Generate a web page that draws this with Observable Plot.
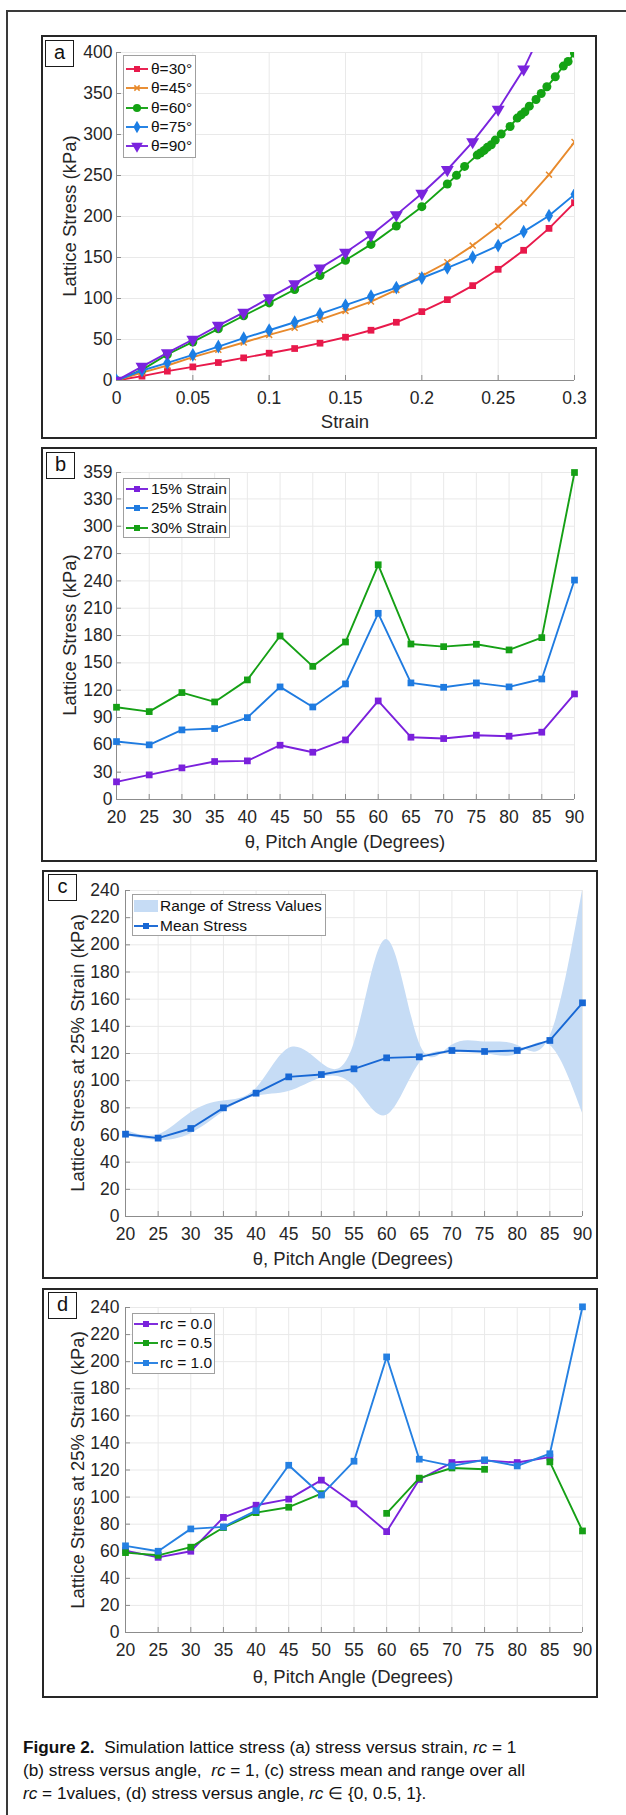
<!DOCTYPE html>
<html><head><meta charset="utf-8">
<script src="https://cdn.jsdelivr.net/npm/d3@7"></script>
<script src="https://cdn.jsdelivr.net/npm/@observablehq/plot@0.6"></script>
<style>
body{margin:0;background:#fff;}
#page{position:relative;width:626px;height:1815px;overflow:hidden;font-family:"Liberation Sans",Arial,Helvetica,sans-serif;color:#111;background:#fff;}
.box{position:absolute;box-sizing:border-box;pointer-events:none;}
.letter{position:absolute;box-sizing:border-box;border:1.5px solid #1a1a1a;background:#fff;font-size:20px;text-align:center;line-height:23px;}
.ylab{position:absolute;white-space:nowrap;font-size:18.5px;color:#262626;transform:translate(-50%,-50%) rotate(-90deg);}
.xlab{position:absolute;white-space:nowrap;font-size:18.5px;color:#262626;transform:translate(-50%,-50%);}
.legend{position:absolute;box-sizing:border-box;border:1px solid #a0a0a0;background:#fff;}
.ltext{position:absolute;white-space:nowrap;font-size:15.5px;color:#111;transform:translateY(-50%);}
.cap{position:absolute;left:23px;white-space:pre;font-size:17.2px;color:#111;transform:translateY(-50%);}
.cap i{font-style:italic;}
svg.plot{position:absolute;}
</style></head>
<body><div id="page"></div>
<script>
// ---------- DATA ----------
// Panel a: stress vs strain
const strainA = [0, 0.0167, 0.0333, 0.05, 0.0667, 0.0833, 0.1, 0.1167, 0.1333, 0.15, 0.1667, 0.1833, 0.2, 0.2167, 0.2333, 0.25, 0.2667, 0.2833, 0.3];
const stress30 = [0, 5.3, 11.4, 16.6, 21.9, 27.6, 33.3, 39, 45.5, 52.8, 61.3, 71, 84, 98.6, 115.7, 135.6, 158.8, 185.5, 216.8];
const stress45 = [0, 9.7, 18.3, 28.4, 37.4, 46.3, 55.6, 64.2, 74.3, 84.9, 96.3, 110.5, 127.5, 144.2, 164.5, 188, 216.4, 251, 290.8];
const strain60 = [0, 0.0167, 0.0333, 0.05, 0.0667, 0.0833, 0.1, 0.1167, 0.1333, 0.15, 0.1667, 0.1833, 0.2, 0.2167, 0.2227, 0.228, 0.2363, 0.2384, 0.2408, 0.2429, 0.2455, 0.2481, 0.252, 0.2578, 0.2625, 0.2651, 0.2675, 0.2704, 0.2748, 0.2782, 0.2819, 0.2874, 0.2927, 0.2958, 0.3];
const stress60 = [0, 13, 31.7, 47, 63, 79, 94.6, 111, 128, 146.6, 166, 188.4, 212, 239.6, 250.2, 261.1, 274.9, 277.4, 280.6, 284.3, 287.5, 293.2, 300.5, 309.8, 320, 324.1, 327.7, 334.6, 342.7, 350, 358.2, 370.4, 383.4, 389, 399.2];
const stress75 = [0, 12.2, 21.5, 31.3, 41.4, 51.6, 61.3, 71, 81.2, 91.8, 102.7, 113.3, 125, 137.3, 150.3, 164.5, 181.5, 201, 227];
const strain90 = [0, 0.0167, 0.0333, 0.05, 0.0667, 0.0833, 0.1, 0.1167, 0.1333, 0.15, 0.1667, 0.1833, 0.2, 0.2167, 0.2333, 0.25, 0.2667, 0.2833];
const stress90 = [0, 17, 33.7, 50, 67, 83, 100.7, 117.8, 137, 156, 177.5, 202, 228, 257, 291, 330.6, 379.7, 445];
const labelsA = ["θ=30°", "θ=45°", "θ=60°", "θ=75°", "θ=90°"];
const ticksStrain = [0, 0.05, 0.1, 0.15, 0.2, 0.25, 0.3];
const ticksA = [0, 50, 100, 150, 200, 250, 300, 350, 400];

// Panels b-d: stress vs pitch angle
const angles = [20, 25, 30, 35, 40, 45, 50, 55, 60, 65, 70, 75, 80, 85, 90];
const b15 = [19.4, 27, 34.7, 41.7, 42.4, 59.6, 51.9, 65.4, 108.2, 68.4, 66.9, 70.6, 69.5, 73.9, 115.9];
const b25 = [63.6, 60, 76.4, 77.9, 89.9, 123.6, 101.6, 126.9, 204.4, 128, 123.2, 128, 123.6, 132.3, 240.9];
const b30 = [101.3, 96.5, 117.4, 107.1, 131.3, 179.5, 146.2, 172.9, 257.7, 170.7, 167.8, 170.4, 164.2, 177.7, 359];
const labelsB = ["15% Strain", "25% Strain", "30% Strain"];
const ticksB = [0, 30, 60, 90, 120, 150, 180, 210, 240, 270, 300, 330, 359];

const meanC = [60.6, 57.7, 64.8, 80, 90.8, 102.8, 104.5, 108.7, 116.8, 117.5, 122.2, 121.5, 122.2, 129.6, 157.3];
const rangeLo = [59.6, 56, 61, 77, 88.5, 92, 102, 96, 74.5, 112.5, 121, 120, 119.5, 126, 76];
const rangeHi = [63.6, 60, 76.4, 85, 94, 123.6, 113, 127, 204, 128, 126, 128.5, 126, 132.3, 240];
const labelsC = ["Range of Stress Values", "Mean Stress"];

const d00 = [60.5, 55.5, 60, 85, 94, 98.5, 112.5, 95, 74.5, 113, 125.5, 127, 125.5, 129.5, null];
const d05 = [59, 57, 63, 77.5, 88.5, 92.5, 102.5, null, 88, 114, 121.5, 120.5, null, 126, 75];
const d10 = [64, 60, 76.5, 78, 90, 123.5, 101.5, 126.5, 203.5, 128, 123, 127.5, 123, 132, 240.5];
const labelsD = ["rc = 0.0", "rc = 0.5", "rc = 1.0"];
const ticksAngle = [20, 25, 30, 35, 40, 45, 50, 55, 60, 65, 70, 75, 80, 85, 90];
const ticksCD = [0, 20, 40, 60, 80, 100, 120, 140, 160, 180, 200, 220, 240];

// ---------- STYLE ----------
const FONT = '"Liberation Sans", Arial, Helvetica, sans-serif';
const GRID = "#e9e9e9", AXIS = "#8c8c8c", TXT = "#262626";
const C = {red: "#e8194b", orange: "#e88a2c", green: "#14a314", blue: "#1c7ee4", purple: "#7a24de",
           bPurple: "#7a20dc", bBlue: "#1f7be0", bGreen: "#15a015", cBlue: "#1767d4", band: "#c6dcf5"};
const LW = 1.9, SQ = 3.8;

const page = document.getElementById("page");
function div(cls, css, html) {
  const e = document.createElement("div");
  if (cls) e.className = cls;
  Object.assign(e.style, css);
  if (html != null) e.innerHTML = html;
  page.appendChild(e);
  return e;
}
function zip(xs, ys) { return xs.map((x, i) => ({x, y: ys[i]})); }

function panel(p) {
  const svg = Plot.plot({
    width: p.w, height: p.h,
    marginLeft: p.plot[0] - p.left, marginRight: p.left + p.w - p.plot[1],
    marginTop: p.plot[2] - p.top, marginBottom: p.top + p.h - p.plot[3],
    style: {fontFamily: FONT, fontSize: "17.5px", color: TXT, background: "transparent", overflow: "visible"},
    x: {domain: p.xDomain},
    y: {domain: p.yDomain},
    marks: [
      Plot.gridX(p.xTicks, {stroke: GRID, strokeOpacity: 1}),
      Plot.gridY(p.yTicks, {stroke: GRID, strokeOpacity: 1}),
      ...(p.under || []),
      Plot.ruleY([p.yDomain[0]], {stroke: AXIS}),
      Plot.ruleX([p.xDomain[0]], {stroke: AXIS}),
      Plot.axisX(p.xTicks, {tickSize: -5, tickPadding: 16, stroke: AXIS, label: null, tickFormat: d => String(d)}),
      Plot.axisY(p.yTicks, {tickSize: -5, tickPadding: p.yPad || 9, stroke: AXIS, label: null, tickFormat: d => String(d)}),
      ...p.marks
    ]
  });
  svg.classList.add("plot");
  svg.style.left = p.left + "px";
  svg.style.top = p.top + "px";
  page.appendChild(svg);
  div("box", {left: p.left + "px", top: p.top + "px", width: p.w + "px", height: p.h + "px", border: "2px solid #262626"});
  div("letter", {left: p.letter[0] + "px", top: p.letter[1] + "px", width: "29px", height: "27px"}, p.letterText);
  div("ylab", {left: p.ylab[0] + "px", top: p.ylab[1] + "px"}, p.ylabText);
  div("xlab", {left: p.xlab[0] + "px", top: p.xlab[1] + "px"}, p.xlabText);
}

function symPath(type, r) {
  const map = {square: d3.symbolSquare, circle: d3.symbolCircle, diamond: d3.symbolDiamond, triangle: d3.symbolTriangle, times: d3.symbolTimes};
  return d3.symbol(map[type], Math.PI * r * r)();
}
function legend(L) {
  div("legend", {left: L.box[0] + "px", top: L.box[1] + "px", width: L.box[2] + "px", height: L.box[3] + "px"});
  L.items.forEach((it, i) => {
    const y = L.rows[i];
    const s = document.createElementNS("http://www.w3.org/2000/svg", "svg");
    s.setAttribute("width", 30); s.setAttribute("height", 20);
    s.style.position = "absolute"; s.style.left = (L.x0 - 2) + "px"; s.style.top = (y - 10) + "px";
    const w = L.x1 - L.x0;
    let inner = "";
    if (it.patch) {
      inner = `<rect x="2" y="4" width="${w}" height="12" fill="${it.color}"/>`;
    } else {
      inner = `<line x1="2" x2="${w + 2}" y1="10" y2="10" stroke="${it.color}" stroke-width="${LW}"/>`;
      const fill = it.symbol === "times" ? "none" : it.color;
      inner += `<path d="${symPath(it.symbol, it.r)}" transform="translate(${w / 2 + 2},10) rotate(${it.rotate || 0})" fill="${fill}" stroke="${it.symbol === "times" ? it.color : "none"}" stroke-width="1.5"/>`;
    }
    s.innerHTML = inner;
    page.appendChild(s);
    div("ltext", {left: L.tx + "px", top: y + "px"}, it.label);
  });
}

// ---------- PANEL A ----------
const seriesA = [
  {xs: strainA, ys: stress30, color: C.red, symbol: "square", r: 3.8},
  {xs: strainA, ys: stress45, color: C.orange, symbol: "times", r: 2.8},
  {xs: strain60, ys: stress60, color: C.green, symbol: "circle", r: 4.5},
  {xs: strainA, ys: stress75, color: C.blue, symbol: "diamond", r: 4.2},
  {xs: strain90, ys: stress90, color: C.purple, symbol: "triangle", r: 4.8, rotate: 180}
];
const marksA = [];
seriesA.forEach(s => {
  const data = zip(s.xs, s.ys);
  marksA.push(Plot.line(data, {x: "x", y: "y", stroke: s.color, strokeWidth: LW, clip: true}));
  if (s.symbol === "times")
    marksA.push(Plot.dot(data, {x: "x", y: "y", symbol: "times", r: s.r, stroke: s.color, strokeWidth: 1.5, clip: true}));
  else
    marksA.push(Plot.dot(data, {x: "x", y: "y", symbol: s.symbol, r: s.r, fill: s.color, stroke: "none", rotate: s.rotate || 0, clip: true}));
});
panel({left: 41, top: 35, w: 556, h: 404, plot: [116, 574, 52, 380],
  xDomain: [0, 0.3], yDomain: [0, 400], xTicks: ticksStrain, yTicks: ticksA, marks: marksA,
  letter: [45, 40], letterText: "a", ylab: [70, 216], ylabText: "Lattice Stress (kPa)", xlab: [345, 422], xlabText: "Strain"});
legend({box: [123, 55, 73, 103], rows: [69, 88, 108, 127, 146], x0: 126, x1: 148, tx: 151,
  items: seriesA.map((s, i) => ({label: labelsA[i], color: s.color, symbol: s.symbol, r: s.r * 0.9, rotate: s.rotate}))});

// ---------- PANEL B ----------
const seriesB = [
  {ys: b15, color: C.bPurple}, {ys: b25, color: C.bBlue}, {ys: b30, color: C.bGreen}
];
const marksB = [];
seriesB.forEach(s => {
  const data = zip(angles, s.ys);
  marksB.push(Plot.line(data, {x: "x", y: "y", stroke: s.color, strokeWidth: LW}));
  marksB.push(Plot.dot(data, {x: "x", y: "y", symbol: "square", r: SQ, fill: s.color}));
});
panel({left: 41, top: 447, w: 556, h: 415, plot: [116, 574, 472, 799],
  xDomain: [20, 90], yDomain: [0, 359], xTicks: ticksAngle, yTicks: ticksB, marks: marksB,
  letter: [46, 452], letterText: "b", ylab: [70, 635], ylabText: "Lattice Stress (kPa)", xlab: [345, 842], xlabText: "θ, Pitch Angle (Degrees)"});
legend({box: [123, 478, 107, 60], rows: [489, 508, 528], x0: 126, x1: 148, tx: 151,
  items: seriesB.map((s, i) => ({label: labelsB[i], color: s.color, symbol: "square", r: 3.4}))});

// ---------- PANEL C ----------
const rowsC = angles.map((a, i) => ({x: a, lo: rangeLo[i], hi: rangeHi[i], m: meanC[i]}));
panel({left: 42, top: 870, w: 556, h: 409, plot: [125, 582, 890, 1216],
  xDomain: [20, 90], yDomain: [0, 240], xTicks: ticksAngle, yTicks: ticksCD, yPad: 11,
  under: [Plot.areaY(rowsC, {x: "x", y1: "lo", y2: "hi", curve: "natural", fill: C.band, fillOpacity: 1})],
  marks: [
    Plot.line(rowsC, {x: "x", y: "m", stroke: C.cBlue, strokeWidth: LW}),
    Plot.dot(rowsC, {x: "x", y: "m", symbol: "square", r: SQ, fill: C.cBlue})
  ],
  letter: [48, 874], letterText: "c", ylab: [78, 1053], ylabText: "Lattice Stress at 25% Strain (kPa)", xlab: [353, 1259], xlabText: "θ, Pitch Angle (Degrees)"});
legend({box: [132, 894, 194, 42], rows: [906, 926], x0: 134, x1: 158, tx: 160,
  items: [{label: labelsC[0], color: C.band, patch: true}, {label: labelsC[1], color: C.cBlue, symbol: "square", r: 3.4}]});

// ---------- PANEL D ----------
const seriesD = [
  {ys: d00, color: "#7a22dc"}, {ys: d05, color: "#16a016"}, {ys: d10, color: "#2580e2"}
];
const marksD = [];
seriesD.forEach(s => {
  const data = zip(angles, s.ys);
  marksD.push(Plot.line(data, {x: "x", y: "y", stroke: s.color, strokeWidth: LW}));
  marksD.push(Plot.dot(data, {x: "x", y: "y", symbol: "square", r: SQ, fill: s.color}));
});
panel({left: 42, top: 1288, w: 556, h: 410, plot: [125, 582, 1307, 1632],
  xDomain: [20, 90], yDomain: [0, 240], xTicks: ticksAngle, yTicks: ticksCD, yPad: 11, marks: marksD,
  letter: [48, 1292], letterText: "d", ylab: [78, 1470], ylabText: "Lattice Stress at 25% Strain (kPa)", xlab: [353, 1677], xlabText: "θ, Pitch Angle (Degrees)"});
legend({box: [132, 1313, 83, 61], rows: [1324, 1343, 1363], x0: 134, x1: 158, tx: 160,
  items: seriesD.map((s, i) => ({label: labelsD[i], color: s.color, symbol: "square", r: 3.4}))});

// ---------- OUTER FRAME + CAPTION ----------
div("box", {left: "6px", top: "10px", width: "700px", height: "1900px", border: "2px solid #3a3a3a"});
div("cap", {top: "1747px"}, '<b>Figure 2.</b>  Simulation lattice stress (a) stress versus strain, <i>rc</i> = 1');
div("cap", {top: "1770px"}, '(b) stress versus angle,  <i>rc</i> = 1, (c) stress mean and range over all');
div("cap", {top: "1793px"}, '<i>rc</i> = 1values, (d) stress versus angle, <i>rc</i> ∈ {0, 0.5, 1}.');
</script>
</body></html>
